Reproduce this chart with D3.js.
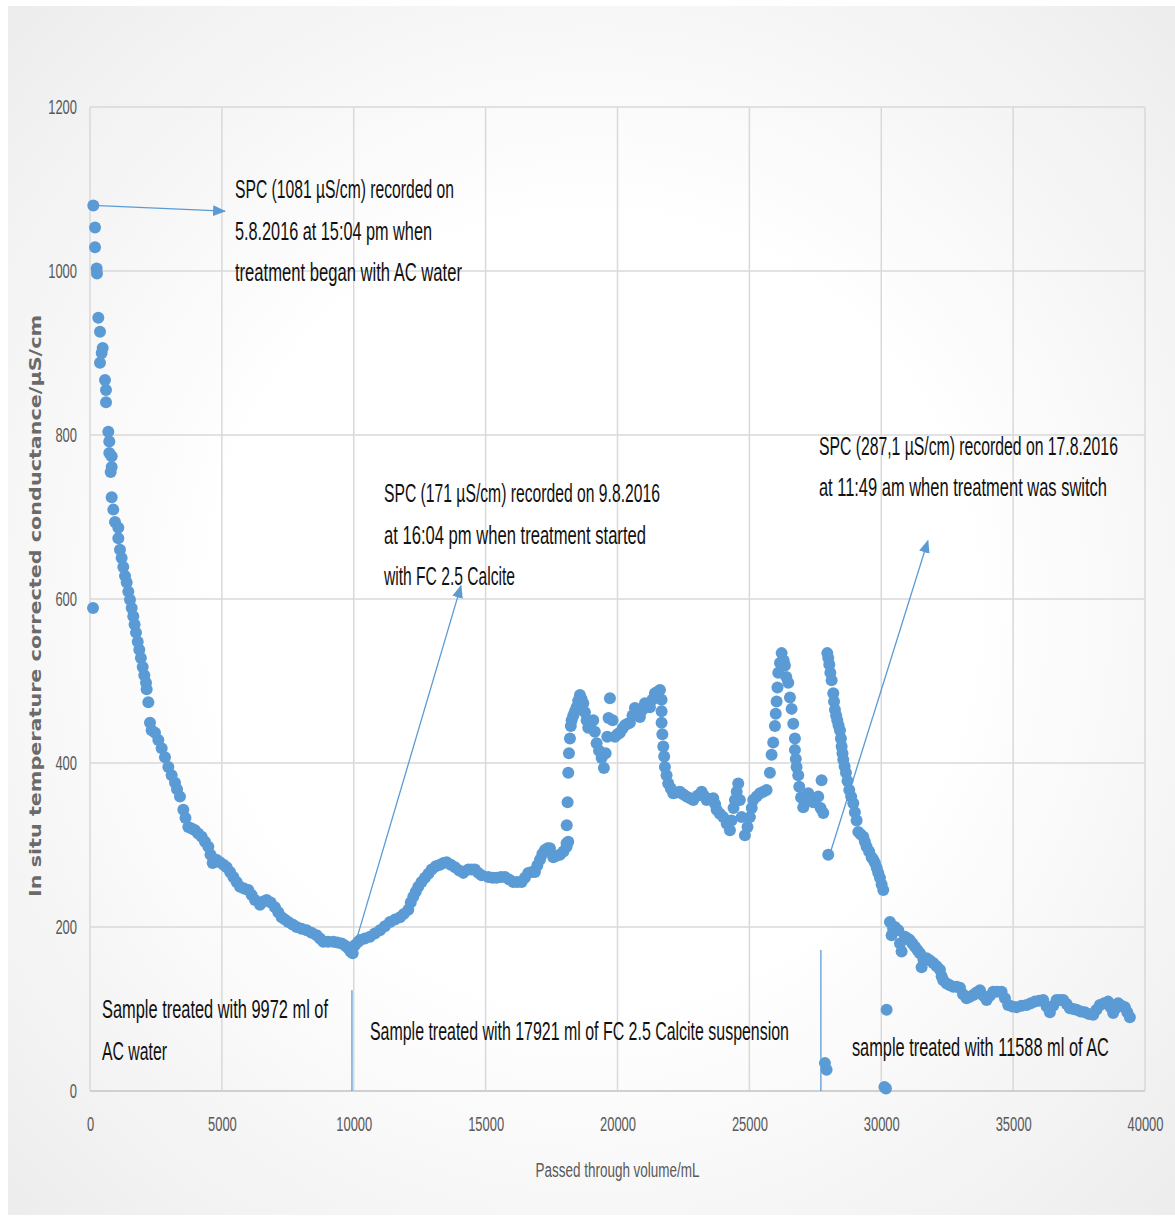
<!DOCTYPE html>
<html>
<head>
<meta charset="utf-8">
<script src="https://cdn.jsdelivr.net/npm/d3@7"></script>
<style>
  body { margin: 0; background: #fff; }
  svg { display: block; }
</style>
</head>
<body>
<div id="chart"></div>
<script>
// values (mL passed, SPC in µS/cm)
const volume = [
  126, 190, 190, 253, 265, 315, 379, 481, 442, 379, 569, 607, 607, 694, 732, 732, 822, 784, 822, 822, 884, 948, 1074, 1074, 114,
  1137, 1200, 1262, 1327, 1391, 1453, 1516, 1580, 1642, 1690, 1744, 1810, 1869, 1930, 1998, 2060, 2123, 2148, 2212,
  2275, 2338, 2464, 2590, 2717, 2843, 2970, 3096, 3223, 3300, 3412,
  3538, 3620, 3728, 3850, 3981, 4100, 4234, 4360, 4486, 4570, 4651, 4790, 4929, 5060, 5182, 5310, 5434, 5560, 5687, 5840,
  6002, 6130, 6255, 6445, 6570, 6698, 6850, 7013, 7140, 7267, 7390, 7519, 7680, 7835, 8020, 8214, 8400, 8594, 8720, 8845,
  9030, 9224, 9380, 9541, 9680, 9793, 9880, 9959,
  10050, 10172, 10236, 10420, 10615, 10800, 10994, 11180, 11373, 11560, 11752, 11900, 12068, 12160, 12257, 12350, 12447,
  12570, 12700, 12830, 12953, 13110, 13270, 13400, 13523, 13680, 13838, 14000, 14154, 14342, 14470, 14595, 14720, 14849,
  15100, 15260, 15418, 15580, 15733, 15890, 16048, 16200, 16365, 16490, 16616, 16750, 16870, 16960, 17060, 17150, 17249,
  17350, 17439, 17565, 17690, 17818, 17950, 18070, 18134,
  18070, 18075, 18108, 18134, 18160, 18197, 18230, 18261, 18324, 18390, 18450, 18510, 18576, 18640, 18702, 18765, 18830,
  18891, 18980, 19081, 19140, 19208, 19300, 19398, 19485, 19550, 19612, 19660, 19713, 19815, 19903, 20000, 20092, 20190,
  20282, 20380, 20471, 20570, 20661, 20750, 20850, 20950, 21040, 21130, 21230, 21320, 21419, 21520, 21609, 21672, 21672,
  21672, 21700, 21735, 21770, 21798, 21860, 21924, 22020, 22113, 22240, 22367, 22490, 22620, 22750, 22873, 23030, 23190,
  23280, 23379, 23500, 23630, 23700, 23758, 23880, 24010, 24140, 24262, 24320, 24400, 24452, 24520, 24578, 24640, 24705,
  24831, 24930, 25021, 25090, 25146, 25270, 25400, 25530, 25653, 25779, 25843, 25904, 25969, 26000, 26033, 26065, 26096,
  26160, 26222, 26300, 26348, 26400, 26474, 26538, 26601, 26664, 26727, 26727, 26760, 26790, 26853, 26891, 26960, 27043,
  27130, 27233, 27330, 27422, 27520, 27612, 27739, 27700, 27802,
  27954, 27990, 28030, 28070, 28118, 28182, 28210, 28245, 28290, 28334, 28380, 28435, 28470, 28498, 28530, 28561, 28610, 28662,
  28720, 28788, 28860, 28940, 29000, 29066, 29129, 29220, 29319, 29380, 29445, 29540, 29635, 29700, 29761, 29830, 29887,
  29950, 30013, 30076,
  27990, 27865, 27928, 30203, 30178, 30120,
  30330, 30393, 30450, 30520, 30646, 30710, 30772, 30898, 31000, 31086, 31180, 31276, 31370, 31466, 31530, 31600, 31719,
  31850, 31972, 32100, 32225, 32290, 32351, 32478, 32600, 32731, 32860, 32984, 33100, 33236, 33360, 33489, 33610, 33741,
  33870, 33994, 34120, 34246, 34400, 34563, 34690, 34812, 34970, 35132, 35320, 35510, 35670, 35825, 35980, 36140, 36270,
  36394, 36520, 36647, 36780, 36900, 37030, 37152, 37280, 37405, 37560, 37720, 37880, 38036, 38160, 38289, 38450, 38604,
  38700, 38793, 38890, 38983, 39110, 39236, 39330, 39426
];
const conductance = [
  1080, 1053, 1029, 1003, 997, 943, 926, 906, 900, 888, 867, 855, 840, 804, 792, 778, 774, 755, 761, 724, 709, 694, 687, 674, 589,
  660, 650, 639, 628, 620, 609, 599, 589, 579, 569, 559, 548, 538, 528, 517, 507, 498, 490, 474,
  449, 440, 437, 428, 418, 407, 395, 385, 376, 368, 359,
  343, 333, 322, 320, 318, 314, 310, 304, 298, 288, 278, 282, 279, 276, 273, 267, 261, 255, 249, 247,
  245, 239, 233, 227, 231, 233, 230, 224, 218, 212, 209, 206, 203, 200, 198, 196, 193, 190, 186, 182,
  182, 182, 181, 180, 177, 174, 170, 168,
  178, 182, 184, 186, 188, 192, 196, 201, 206, 209, 212, 216, 221, 230, 237, 243, 249,
  255, 260, 265, 270, 274, 276, 278, 279, 276, 273, 269, 266, 270, 270, 270, 266, 263,
  261, 260, 260, 261, 261, 258, 255, 255, 255, 260, 266, 267, 267, 275, 282, 289, 294,
  296, 296, 285, 287, 288, 292, 298, 304,
  302, 324, 352, 388, 412, 430, 445, 452, 458, 463, 468, 476, 483, 478, 473, 462, 452,
  443, 448, 452, 438, 424, 415, 406, 394, 412, 432, 455, 479, 452, 432, 435, 437, 442,
  446, 448, 449, 458, 467, 462, 456, 465, 473, 471, 468, 477, 485, 487, 489, 477, 463,
  449, 435, 420, 408, 395, 385, 375, 369, 363, 364, 365, 362, 359, 357, 355, 360, 365,
  360, 355, 356, 357, 350, 343, 338, 334, 326, 318, 330, 345, 355, 365, 375, 355, 334,
  312, 322, 334, 345, 355, 359, 363, 365, 367, 388, 410, 425, 445, 460, 475, 492, 510,
  522, 534, 525, 519, 505, 498, 480, 466, 448, 430, 416, 405, 395, 385, 371, 358, 346,
  355, 363, 358, 352, 356, 359, 379, 345, 339,
  534, 528, 520, 510, 501, 485, 475, 465, 458, 452, 446, 440, 430, 420, 412, 404, 396, 388,
  378, 367, 359, 351, 340, 330, 316, 313, 310, 304, 298, 292, 285, 282, 278, 272, 266,
  260, 252, 245,
  288, 34, 26, 99, 3, 5,
  206, 190, 198, 200, 196, 180, 170, 188, 186, 184, 180, 176, 172, 168, 151, 160, 162,
  159, 156, 152, 148, 140, 135, 131, 129, 127, 127, 126, 118, 113, 115, 117, 120, 123,
  116, 111, 116, 121, 121, 121, 113, 105, 103, 102, 104, 105, 107, 109, 110, 111, 103,
  96, 104, 111, 111, 111, 106, 101, 100, 99, 97, 96, 94, 93, 99, 105, 107, 109,
  102, 95, 101, 107, 104, 102, 96, 90
];

const xTicks = [0, 5000, 10000, 15000, 20000, 25000, 30000, 35000, 40000];
const yTicks = [0, 200, 400, 600, 800, 1000, 1200];

// callouts, anchored in data units
const arrows = [
  { x1: 114, y1: 1080, x2: 5118, y2: 1073 },
  { x1: 9932, y1: 166, x2: 14065, y2: 616 },
  { x1: 28015, y1: 285, x2: 31769, y2: 671 }
];
const markerLines = [
  { x: 9932, y1: 0, y2: 123 },
  { x: 27712, y1: 0, y2: 172 }
];
const notes = [
  { x: 5497, y: 1089, lines: ['SPC (1081 µS/cm) recorded on', '5.8.2016 at 15:04 pm when', 'treatment began with AC water'], widths: [219, 197, 227] },
  { x: 11146, y: 718, lines: ['SPC (171 µS/cm) recorded on 9.8.2016', 'at 16:04 pm when treatment started', 'with FC 2.5 Calcite'], widths: [276, 262, 131] },
  { x: 27636, y: 776, lines: ['SPC (287,1 µS/cm) recorded on 17.8.2016', 'at 11:49 am when treatment was switch'], widths: [299, 288] },
  { x: 455, y: 89, lines: ['Sample treated with 9972 ml of', 'AC water'], widths: [226, 65] },
  { x: 10615, y: 62, lines: ['Sample treated with 17921 ml of FC 2.5 Calcite suspension'], widths: [419] },
  { x: 28887, y: 43, lines: ['sample treated with 11588 ml of AC'], widths: [257] }
];

const width = 1175;
const height = 1217;
const margin = { top: 107, right: 30, bottom: 126, left: 90 };
const blue = '#5b9bd5';
const fontNarrow = '"Liberation Sans Narrow", "Liberation Sans", Arial, sans-serif';

const svg = d3.select('#chart')
  .append('svg')
  .attr('width', width)
  .attr('height', height);

const defs = svg.append('defs');
const grad = defs.append('radialGradient')
  .attr('id', 'bg')
  .attr('cx', '50%').attr('cy', '50%').attr('r', '72%');
grad.append('stop').attr('offset', '0.45').attr('stop-color', '#ffffff');
grad.append('stop').attr('offset', '1').attr('stop-color', '#ececec');

defs.append('marker')
  .attr('id', 'head')
  .attr('markerUnits', 'userSpaceOnUse')
  .attr('viewBox', '0 0 12 10')
  .attr('refX', 11).attr('refY', 5)
  .attr('markerWidth', 13).attr('markerHeight', 11)
  .attr('orient', 'auto')
  .append('path')
  .attr('d', 'M0,0 L12,5 L0,10 Z')
  .attr('fill', blue);

svg.append('rect')
  .attr('x', 8).attr('y', 6)
  .attr('width', width - 8).attr('height', height - 8)
  .attr('fill', 'url(#bg)');

const x = d3.scaleLinear()
  .domain([0, 40000])
  .range([margin.left, width - margin.right]);

const y = d3.scaleLinear()
  .domain([0, 1200])
  .range([height - margin.bottom, margin.top]);

// gridlines
const grid = svg.append('g').attr('class', 'grid');
grid.selectAll('.vline')
  .data(xTicks)
  .enter()
  .append('line')
  .attr('x1', d => x(d)).attr('x2', d => x(d))
  .attr('y1', y(0)).attr('y2', y(1200))
  .attr('stroke', '#d9d9d9')
  .attr('stroke-width', 1.5);
grid.selectAll('.hline')
  .data(yTicks)
  .enter()
  .append('line')
  .attr('x1', x(0)).attr('x2', x(40000))
  .attr('y1', d => y(d)).attr('y2', d => y(d))
  .attr('stroke', d => d === 0 ? '#d0d0d0' : '#d9d9d9')
  .attr('stroke-width', d => d === 0 ? 2 : 1.5);

// axes
const yAxis = svg.append('g')
  .attr('transform', `translate(${margin.left},0)`)
  .call(d3.axisLeft(y).tickValues(yTicks).tickSize(0).tickPadding(13).tickFormat(d3.format('d')));

const xAxis = svg.append('g')
  .attr('transform', `translate(0,${y(0)})`)
  .call(d3.axisBottom(x).tickValues(xTicks).tickSize(0).tickPadding(26).tickFormat(d3.format('d')));

[yAxis, xAxis].forEach(ax => {
  ax.select('.domain').remove();
  ax.selectAll('text')
    .attr('fill', '#595959')
    .style('font-family', fontNarrow)
    .style('font-size', '20px')
    .attr('textLength', function () { return this.textContent.length * 7.2; })
    .attr('lengthAdjust', 'spacingAndGlyphs');
});

// axis titles
svg.append('text')
  .attr('transform', `translate(41,${(y(0) + y(1200)) / 2 + 7}) rotate(-90)`)
  .attr('text-anchor', 'middle')
  .attr('fill', '#6a6a6a')
  .style('font-family', '"DejaVu Sans", Verdana, sans-serif')
  .style('font-weight', 'bold')
  .style('font-size', '15px')
  .attr('textLength', 582)
  .attr('lengthAdjust', 'spacingAndGlyphs')
  .text('In situ temperature corrected conductance/µS/cm');

svg.append('text')
  .attr('x', (x(0) + x(40000)) / 2)
  .attr('y', 1177)
  .attr('text-anchor', 'middle')
  .attr('fill', '#595959')
  .style('font-family', fontNarrow)
  .style('font-size', '20px')
  .attr('textLength', 164)
  .attr('lengthAdjust', 'spacingAndGlyphs')
  .text('Passed through volume/mL');

// annotation lines
svg.append('g')
  .selectAll('line')
  .data(markerLines)
  .enter()
  .append('line')
  .attr('x1', d => x(d.x)).attr('x2', d => x(d.x))
  .attr('y1', d => y(d.y1)).attr('y2', d => y(d.y2))
  .attr('stroke', blue)
  .attr('stroke-width', 1.3);

svg.append('g')
  .selectAll('line')
  .data(arrows)
  .enter()
  .append('line')
  .attr('x1', d => x(d.x1)).attr('y1', d => y(d.y1))
  .attr('x2', d => x(d.x2)).attr('y2', d => y(d.y2))
  .attr('stroke', blue)
  .attr('stroke-width', 1.3)
  .attr('marker-end', 'url(#head)');

// points
const points = volume.map((v, i) => ({ v, c: conductance[i] }));
svg.append('g')
  .attr('class', 'dots')
  .selectAll('circle')
  .data(points)
  .enter()
  .append('circle')
  .attr('cx', d => x(d.v))
  .attr('cy', d => y(d.c))
  .attr('r', 6)
  .attr('fill', blue);

// annotation text
const noteG = svg.append('g');
notes.forEach(n => {
  n.lines.forEach((line, i) => {
    noteG.append('text')
      .attr('x', x(n.x))
      .attr('y', y(n.y) + i * 41.5)
      .attr('fill', '#111')
      .style('font-family', fontNarrow)
      .style('font-size', '26px')
      .attr('textLength', n.widths[i])
      .attr('lengthAdjust', 'spacingAndGlyphs')
      .text(line);
  });
});
</script>
</body>
</html>
